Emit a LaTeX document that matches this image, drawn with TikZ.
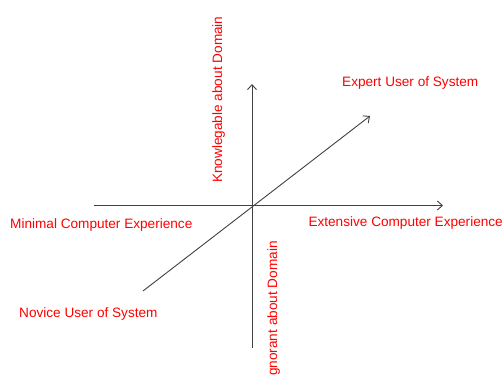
\documentclass[tikz,border=0pt]{standalone}
\usepackage{fontspec}
\setmainfont{Liberation Sans}
\usetikzlibrary{arrows.meta}
\begin{document}
\begin{tikzpicture}[x=1pt,y=-1pt,
  axis/.style={draw=black!75, line width=0.9pt, -{Straight Barb[length=5pt,width=9pt]}},
  lbl/.style={text=red, font=\fontsize{13.6}{15}\selectfont, inner sep=0pt}]
\useasboundingbox (0,0) rectangle (504,379);
% axis end points
\coordinate (hL) at (94,205.5);
\coordinate (hR) at (443,205.5);
\coordinate (vB) at (252,348);
\coordinate (vT) at (252,84);
\coordinate (dB) at (143,291);
\coordinate (dT) at (370,116);
\draw[axis] (hL) -- (hR);
\draw[axis] (vB) -- (vT);
\draw[axis] (dB) -- (dT);
% labels
\node[lbl, anchor=base west] (expert) at (342,87) {Expert User of System};
\node[lbl, anchor=base west] (minimal) at (10,229) {Minimal Computer Experience};
\node[lbl, anchor=base east] (extensive) at (503,227) {Extensive Computer Experience};
\node[lbl, anchor=base west] (novice) at (19,318) {Novice User of System};
\node[lbl, rotate=90, anchor=base west] (know) at (222,183) {Knowlegable about Domain};
\node[lbl, rotate=90, anchor=base west] (ignor) at (277,376) {gnorant about Domain};
\end{tikzpicture}
\end{document}
